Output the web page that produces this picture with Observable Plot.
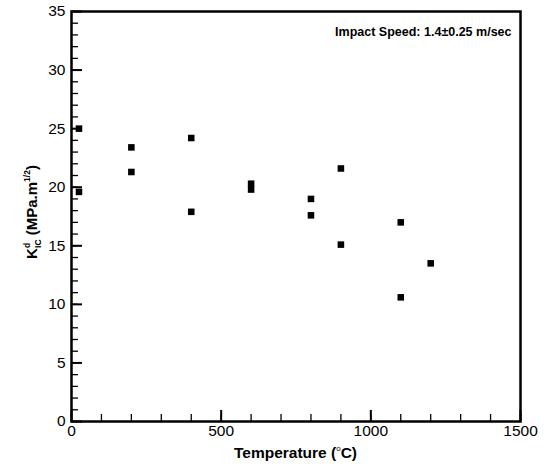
<!DOCTYPE html>
<html><head><meta charset="utf-8">
<script src="https://cdn.jsdelivr.net/npm/d3@7"></script>
<script src="https://cdn.jsdelivr.net/npm/@observablehq/plot@0.6"></script>
<style>body{margin:0;background:#fff} svg{font-family:"Liberation Sans",Arial,sans-serif}</style>
</head><body><div id="chart"></div>
<script>
const temperature = [25, 25, 200, 200, 400, 400, 600, 600, 800, 800, 900, 900, 1100, 1100, 1200];
const kic = [25.0, 19.6, 23.4, 21.3, 24.2, 17.9, 20.3, 19.8, 19.0, 17.6, 21.6, 15.1, 17.0, 10.6, 13.5];
const xTicks = [0, 500, 1000, 1500];
const yTicks = [0, 5, 10, 15, 20, 25, 30, 35];
const xMinor = d3.range(0, 1501, 100);
const yMinor = d3.range(0, 36, 1);
const note = "Impact Speed: 1.4\u00b10.25 m/sec";

const data = temperature.map((t, i) => ({t, k: kic[i]}));

const plot = Plot.plot({
  width: 544, height: 468,
  marginLeft: 71, marginRight: 24, marginTop: 11, marginBottom: 47,
  style: {fontFamily: "Liberation Sans, Arial, sans-serif", fontSize: "15.5px", color: "#000", background: "#fff", overflow: "visible"},
  x: {domain: [0, 1500]},
  y: {domain: [0, 35]},
  marks: [
    Plot.axisX({ticks: xMinor, tickSize: -7, tickFormat: () => "", label: null, strokeWidth: 1.3}),
    Plot.axisX({ticks: xTicks, tickSize: -11, tickFormat: () => "", label: null, strokeWidth: 2}),
    Plot.axisX({ticks: xTicks, tickSize: 0, tickPadding: 3, tickFormat: d => String(d), label: null}),
    Plot.axisY({ticks: yMinor, tickSize: -7, tickFormat: () => "", label: null, strokeWidth: 1.3}),
    Plot.axisY({ticks: yTicks, tickSize: -11, tickFormat: () => "", label: null, strokeWidth: 2}),
    Plot.axisY({ticks: yTicks, tickSize: 0, tickPadding: 6, tickFormat: d => String(d), label: null}),
    Plot.dot(data, {x: "t", y: "k", symbol: "square", r: 3.7, fill: "black", stroke: null}),
    Plot.text([note], {frameAnchor: "top-right", dx: -9, dy: 20, lineAnchor: "middle", textAnchor: "end", fontWeight: "bold", fontSize: 12.5}),
    Plot.frame({stroke: "black", strokeWidth: 2.5})
  ]
});
document.getElementById("chart").appendChild(plot);

const svg = d3.select(plot);
// x label
const xl = svg.append("text").attr("x", 295.5).attr("y", 458).attr("text-anchor", "middle")
  .attr("font-weight", "bold").attr("font-size", 15.5).attr("fill", "black");
xl.append("tspan").text("Temperature (");
xl.append("tspan").attr("dy", -7).attr("font-size", 8).attr("font-weight", "normal").text("o");
xl.append("tspan").attr("dy", 7).text("C)");
// y label
const yl = svg.append("text").attr("transform", "translate(37,212) rotate(-90)").attr("text-anchor", "middle")
  .attr("font-weight", "bold").attr("font-size", 15).attr("fill", "black");
yl.append("tspan").text("K");
yl.append("tspan").attr("dy", -7).attr("font-size", 8.5).text("d");
yl.append("tspan").attr("dx", -5).attr("dy", 11).attr("font-size", 8.5).text("IC");
yl.append("tspan").attr("dy", -4).text(" (MPa.m");
yl.append("tspan").attr("dy", -7).attr("font-size", 8.5).text("1/2");
yl.append("tspan").attr("dy", 7).text(")");
</script>
</body></html>
